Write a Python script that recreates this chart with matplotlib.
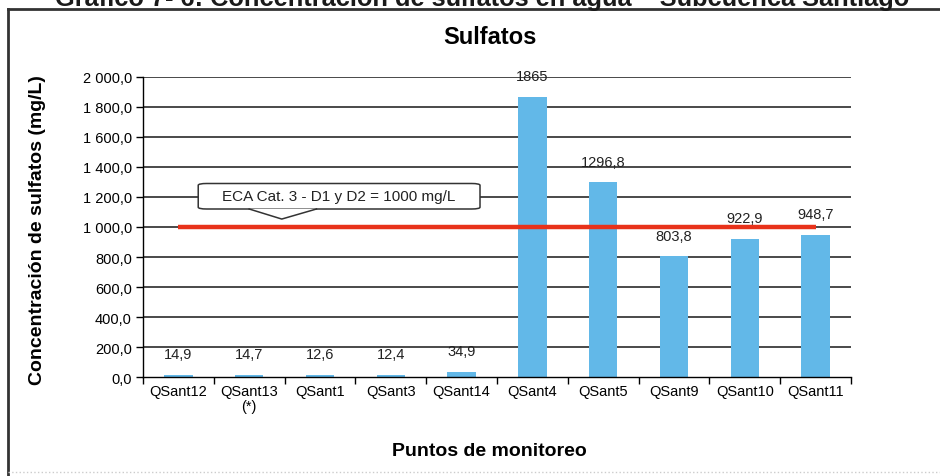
import matplotlib
matplotlib.use("Agg")
import matplotlib.pyplot as plt
from matplotlib.patches import FancyBboxPatch, Polygon
from matplotlib.ticker import FixedLocator, FuncFormatter
import matplotlib.lines as mlines

categories = ["QSant12", "QSant13\n(*)", "QSant1", "QSant3", "QSant14",
              "QSant4", "QSant5", "QSant9", "QSant10", "QSant11"]
values = [14.9, 14.7, 12.6, 12.4, 34.9, 1865, 1296.8, 803.8, 922.9, 948.7]
labels = ["14,9", "14,7", "12,6", "12,4", "34,9", "1865", "1296,8", "803,8", "922,9", "948,7"]
eca_value = 1000
eca_text = "ECA Cat. 3 - D1 y D2 = 1000 mg/L"
yticks = [0, 200, 400, 600, 800, 1000, 1200, 1400, 1600, 1800, 2000]

plt.rcParams['font.family'] = ['Liberation Sans', 'DejaVu Sans']

fig = plt.figure(figsize=(9.4, 4.77), dpi=100)
ax = fig.add_axes([143/940, 1-378/477, (851-143)/940, 300/477])

x = list(range(len(categories)))
ax.set_xlim(-0.5, len(categories) - 0.5)
ax.set_ylim(0, 2000)

for yv in yticks[1:]:
    ax.axhline(yv, color='#3a3a3a', lw=1.3, zorder=1)

ax.bar(x, values, width=0.4, color='#62B8E8', zorder=2)

ax.plot([0, len(categories) - 1], [eca_value, eca_value], color='#E8321A', lw=3.2,
        zorder=3, solid_capstyle='butt')

for xi, v, lab in zip(x, values, labels):
    ax.annotate(lab, (xi, v), xytext=(0, 15), textcoords='offset points',
                ha='center', va='center', fontsize=10.5, color='#222222', zorder=5)

# callout
box = FancyBboxPatch((0.28, 1120), 3.98, 170,
                     boxstyle="round,pad=0,rounding_size=0.12",
                     mutation_aspect=170/0.12/14,
                     facecolor='white', edgecolor='#333333', lw=1.1, zorder=6)
ax.add_patch(box)
tri = Polygon([[1.0, 1122], [1.46, 1053], [1.95, 1122]], closed=True,
              facecolor='white', edgecolor='none', zorder=7)
ax.add_patch(tri)
ax.plot([1.0, 1.46, 1.95], [1120, 1053, 1120], color='#333333', lw=1.1, zorder=8)
ax.text(2.27, 1205, eca_text, ha='center', va='center', fontsize=11,
        color='#222222', zorder=9)

for s in ['top', 'right']:
    ax.spines[s].set_visible(False)
ax.spines['left'].set_linewidth(1.0)
ax.spines['bottom'].set_linewidth(1.0)

ax.yaxis.set_major_locator(FixedLocator(yticks))
ax.yaxis.set_major_formatter(FuncFormatter(
    lambda v, p: ("{:,.1f}".format(v)).replace(",", " ").replace(".", ",")))
ax.tick_params(axis='y', direction='out', length=5, width=1, labelsize=10.5, pad=3)

ax.set_xticks(x)
ax.set_xticklabels(categories, fontsize=10.5, linespacing=1.1)
ax.tick_params(axis='x', length=0, pad=5)
ax.set_xticks([i - 0.5 for i in range(len(categories) + 1)], minor=True)
ax.tick_params(axis='x', which='minor', direction='out', length=5, width=1)

fig.text(0.521, 1-37/477, "Sulfatos", ha='center', va='center', fontsize=17,
         fontweight='bold')
fig.text(0.521, 1-452/477, "Puntos de monitoreo", ha='center', va='center',
         fontsize=14, fontweight='bold')
fig.text(38/940, 1-230/477, "Concentración de sulfatos (mg/L)", ha='center',
         va='center', rotation=90, fontsize=14, fontweight='bold')
fig.text(55/940, 1-6/477, "Gráfico 7- 6: Concentración de sulfatos en agua – Subcuenca Santiago",
         ha='left', va='baseline', fontsize=18.3, fontweight='bold', color='#1a1a1a')

# frame
fig.add_artist(mlines.Line2D([8/940, 8/940], [0, 1-10/477], color='#333333', lw=2,
                             transform=fig.transFigure))
fig.add_artist(mlines.Line2D([8/940, 1], [1-10/477, 1-10/477], color='#333333', lw=2,
                             transform=fig.transFigure))
fig.add_artist(mlines.Line2D([8/940, 1], [1-473/477, 1-473/477], color='#cccccc', lw=1,
                             ls=':', transform=fig.transFigure))

fig.savefig("out.png", dpi=100)
